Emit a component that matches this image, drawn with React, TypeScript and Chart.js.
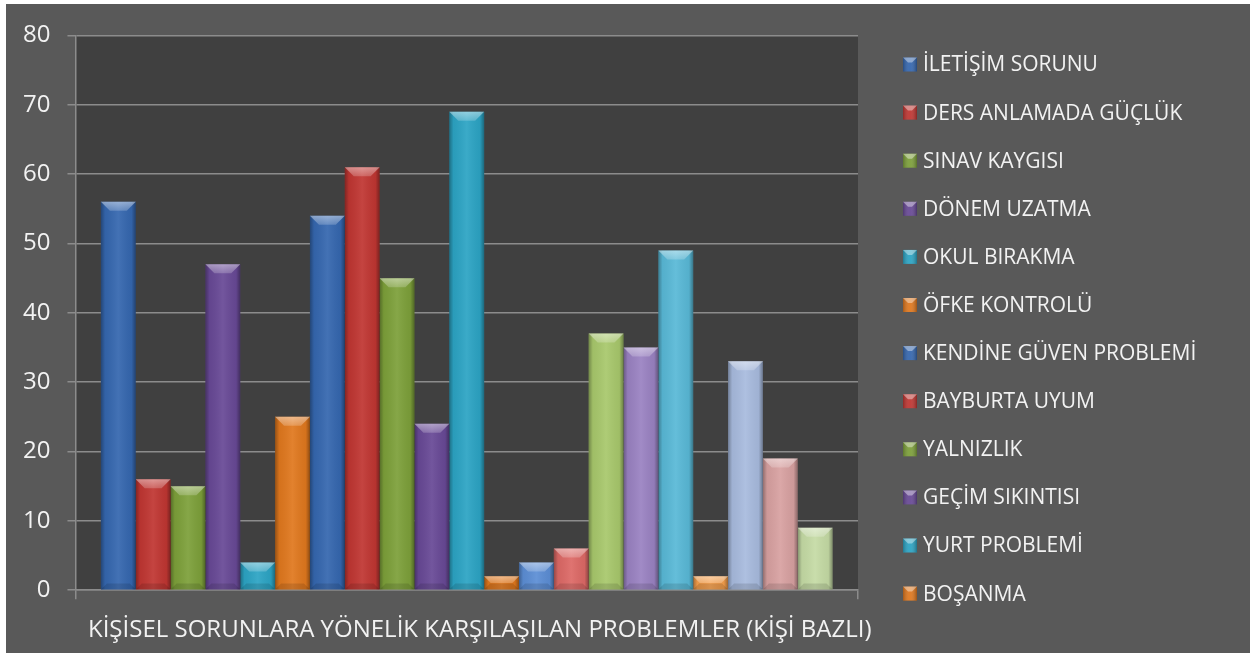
import React, { useEffect, useRef } from "react";
import { Chart, registerables } from "chart.js";

Chart.register(...registerables);

const categories = ["KİŞİSEL SORUNLARA YÖNELİK KARŞILAŞILAN PROBLEMLER (KİŞİ BAZLI)"];

const seriesNames = [
  "İLETİŞİM SORUNU",
  "DERS ANLAMADA GÜÇLÜK",
  "SINAV KAYGISI",
  "DÖNEM UZATMA",
  "OKUL BIRAKMA",
  "ÖFKE KONTROLÜ",
  "KENDİNE GÜVEN PROBLEMİ",
  "BAYBURTA UYUM",
  "YALNIZLIK",
  "GEÇİM SIKINTISI",
  "YURT PROBLEMİ",
  "BOŞANMA",
  "SERİ 13",
  "SERİ 14",
  "SERİ 15",
  "SERİ 16",
  "SERİ 17",
  "SERİ 18",
  "SERİ 19",
  "SERİ 20",
  "SERİ 21",
];

const seriesValues = [56, 16, 15, 47, 4, 25, 54, 61, 45, 24, 69, 2, 4, 6, 37, 35, 49, 2, 33, 19, 9];

const seriesColors = [
  "#3567AF", "#C03632", "#7DA03A", "#684996", "#2CA4C4", "#E0781E",
  "#3567AF", "#C03632", "#7DA03A", "#684996", "#2CA4C4", "#E0781E",
  "#5C8ED5", "#DD6966", "#A8C86C", "#9A82C2", "#59B9D7", "#F59F4C",
  "#A8BBDE", "#D8A1A1", "#C5DBA5",
];

const yTickValues = [0, 10, 20, 30, 40, 50, 60, 70, 80];

const LEGEND_VISIBLE = 12;
const FONT = "'Open Sans', sans-serif";

const plotBgPlugin = {
  id: "plotBg",
  beforeDraw(chart: any) {
    const { ctx, chartArea } = chart;
    ctx.save();
    ctx.fillStyle = "#404040";
    ctx.fillRect(chartArea.left, chartArea.top, chartArea.right - chartArea.left, chartArea.bottom - chartArea.top);
    ctx.restore();
  },
};

const bevelPlugin = {
  id: "bevel",
  afterDatasetsDraw(chart: any) {
    const ctx = chart.ctx;
    chart.data.datasets.forEach((_ds: any, i: number) => {
      const meta = chart.getDatasetMeta(i);
      meta.data.forEach((el: any) => {
        const { x, y, base, width } = el.getProps(["x", "y", "base", "width"], true);
        const l = x - width / 2;
        const r = x + width / 2;
        const t = Math.min(y, base);
        const b = Math.max(y, base);
        const h = b - t;
        ctx.save();
        const g = ctx.createLinearGradient(l, 0, r, 0);
        g.addColorStop(0, "rgba(0,0,0,0.32)");
        g.addColorStop(0.12, "rgba(0,0,0,0.05)");
        g.addColorStop(0.5, "rgba(255,255,255,0.07)");
        g.addColorStop(0.88, "rgba(0,0,0,0.05)");
        g.addColorStop(1, "rgba(0,0,0,0.36)");
        ctx.fillStyle = g;
        ctx.fillRect(l, t, width, h);
        const bv = Math.min(9, h / 2, width / 2);
        ctx.beginPath();
        ctx.moveTo(l, t);
        ctx.lineTo(r, t);
        ctx.lineTo(r - bv, t + bv);
        ctx.lineTo(l + bv, t + bv);
        ctx.closePath();
        const tg = ctx.createLinearGradient(0, t, 0, t + bv);
        tg.addColorStop(0, "rgba(255,255,255,0.45)");
        tg.addColorStop(1, "rgba(255,255,255,0.2)");
        ctx.fillStyle = tg;
        ctx.fill();
        const bb = Math.min(6, h / 2, width / 2);
        ctx.beginPath();
        ctx.moveTo(l, b);
        ctx.lineTo(r, b);
        ctx.lineTo(r - bb, b - bb);
        ctx.lineTo(l + bb, b - bb);
        ctx.closePath();
        ctx.fillStyle = "rgba(0,0,0,0.12)";
        ctx.fill();
        ctx.restore();
      });
    });
  },
};

const legendPlugin = {
  id: "sideLegend",
  afterDraw(chart: any) {
    const { ctx, chartArea } = chart;
    const x0 = chartArea.right + 45;
    const y0 = 60.5;
    const step = 48.1;
    const box = 14;
    ctx.save();
    ctx.font = `21px ${FONT}`;
    ctx.textBaseline = "middle";
    ctx.textAlign = "left";
    chart.data.datasets.slice(0, LEGEND_VISIBLE).forEach((ds: any, i: number) => {
      const cy = y0 + i * step;
      const bx = x0;
      const by = cy - box / 2;
      ctx.fillStyle = ds.backgroundColor;
      ctx.fillRect(bx, by, box, box);
      const g = ctx.createLinearGradient(bx, 0, bx + box, 0);
      g.addColorStop(0, "rgba(0,0,0,0.25)");
      g.addColorStop(0.5, "rgba(255,255,255,0.05)");
      g.addColorStop(1, "rgba(0,0,0,0.3)");
      ctx.fillStyle = g;
      ctx.fillRect(bx, by, box, box);
      ctx.beginPath();
      ctx.moveTo(bx, by);
      ctx.lineTo(bx + box, by);
      ctx.lineTo(bx + box - 5, by + 5);
      ctx.lineTo(bx + 5, by + 5);
      ctx.closePath();
      ctx.fillStyle = "rgba(255,255,255,0.4)";
      ctx.fill();
      ctx.fillStyle = "#F2F2F2";
      ctx.fillText(ds.label, bx + box + 6, cy + 1);
    });
    ctx.restore();
  },
};

export default function App() {
  const canvasRef = useRef<HTMLCanvasElement | null>(null);

  useEffect(() => {
    if (!canvasRef.current) return;
    const chart = new Chart(canvasRef.current, {
      type: "bar",
      data: {
        labels: categories,
        datasets: seriesNames.map((name, i) => ({
          label: name,
          data: [seriesValues[i]],
          backgroundColor: seriesColors[i],
          borderWidth: 0,
          barPercentage: 1,
          categoryPercentage: 0.935,
        })),
      },
      options: {
        animation: false,
        responsive: true,
        maintainAspectRatio: false,
        layout: { padding: { left: 0, top: 30, right: 392, bottom: 12 } },
        plugins: {
          legend: { display: false },
          tooltip: { enabled: false },
        },
        scales: {
          x: {
            grid: {
              display: true,
              drawOnChartArea: false,
              drawTicks: true,
              tickLength: 9,
              color: "#8C8C8C",
              lineWidth: 1.5,
            },
            border: { display: true, color: "#8C8C8C", width: 1.5 },
            ticks: {
              color: "#F2F2F2",
              font: { family: FONT, size: 24 },
              padding: 17,
              labelOffset: 13,
              maxRotation: 0,
            },
          },
          y: {
            min: 0,
            max: 80,
            afterBuildTicks(axis: any) {
              axis.ticks = yTickValues.map((v) => ({ value: v }));
            },
            grid: {
              color: "#8C8C8C",
              lineWidth: 1.5,
              tickLength: 8,
            },
            border: { display: true, color: "#8C8C8C", width: 1.5 },
            ticks: {
              color: "#F2F2F2",
              font: { family: FONT, size: 24 },
              padding: 17,
            },
          },
        },
      },
      plugins: [plotBgPlugin, bevelPlugin, legendPlugin],
    });
    return () => chart.destroy();
  }, []);

  return (
    <div style={{ position: "absolute", left: 0, top: 0, width: 1258, height: 653, background: "#FFFFFF", overflow: "hidden" }}>
      <div style={{ position: "absolute", left: 6, top: 4, width: 1244, height: 670, background: "#595959" }}>
        <canvas ref={canvasRef} />
      </div>
    </div>
  );
}
